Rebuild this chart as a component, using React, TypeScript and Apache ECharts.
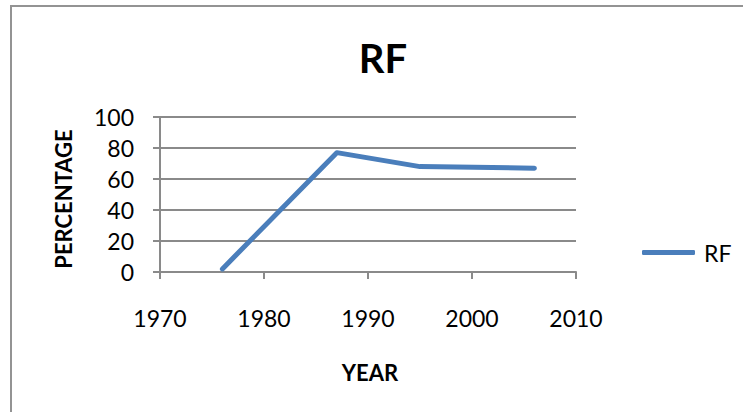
import React, { useEffect, useRef } from "react";
import * as echarts from "echarts";

const years = [1976, 1987, 1995, 2006];
const rfValues = [2, 77, 68, 67];
const seriesName = "RF";
const titleText = "RF";
const xAxisName = "YEAR";
const yAxisName = "PERCENTAGE";

const FONT = "Lato, 'Open Sans', sans-serif";

export default function App() {
  const ref = useRef<HTMLDivElement>(null);
  useEffect(() => {
    if (!ref.current) return;
    const chart = echarts.init(ref.current, null, { renderer: "svg" });
    const data = years.map((y, i) => [y, rfValues[i]]);
    chart.setOption({
      animation: false,
      backgroundColor: "#ffffff",
      textStyle: { fontFamily: FONT },
      grid: { left: 160, right: 167, top: 117, bottom: 140, containLabel: false },
      graphic: [
        {
          type: "rect",
          shape: { x: 11, y: 6, width: 900, height: 600 },
          style: { fill: "none", stroke: "#939393", lineWidth: 2 },
          silent: true,
        },
        {
          type: "text",
          x: 383,
          y: 58,
          style: {
            text: titleText,
            font: `bold 40px ${FONT}`,
            fill: "#000000",
            align: "center",
            verticalAlign: "middle",
          },
        },
        {
          type: "text",
          x: 370,
          y: 372,
          style: {
            text: xAxisName,
            font: `bold 22px ${FONT}`,
            fill: "#000000",
            align: "center",
            verticalAlign: "middle",
          },
        },
        {
          type: "text",
          x: 63,
          y: 199,
          rotation: Math.PI / 2,
          style: {
            text: yAxisName,
            font: `bold 22px ${FONT}`,
            fill: "#000000",
            align: "center",
            verticalAlign: "middle",
          },
        },
      ],
      legend: {
        show: true,
        data: [seriesName],
        orient: "vertical",
        left: 637,
        top: 236,
        itemWidth: 53,
        itemHeight: 5,
        icon: "roundRect",
        itemStyle: { color: "#4a7ebb", borderWidth: 0 },
        textStyle: {
          fontFamily: FONT,
          fontSize: 23,
          color: "#000000",
          padding: [0, 0, 0, 4],
        },
      },
      xAxis: {
        type: "value",
        min: 1970,
        max: 2010,
        interval: 10,
        axisLine: { show: true, lineStyle: { color: "#8a8a8a", width: 2 } },
        axisTick: { show: true, length: 7, lineStyle: { color: "#8a8a8a", width: 2 } },
        axisLabel: {
          fontFamily: FONT,
          fontSize: 23,
          color: "#000000",
          margin: 34,
          formatter: (v: number) => String(v),
        },
        splitLine: { show: false },
      },
      yAxis: {
        type: "value",
        min: 0,
        max: 100,
        interval: 20,
        axisLine: { show: true, lineStyle: { color: "#8a8a8a", width: 2 } },
        axisTick: { show: true, length: 7, lineStyle: { color: "#8a8a8a", width: 2 } },
        axisLabel: { fontFamily: FONT, fontSize: 23, color: "#000000", margin: 26 },
        splitLine: { show: true, lineStyle: { color: "#8a8a8a", width: 2 } },
      },
      series: [
        {
          name: seriesName,
          type: "line",
          data,
          showSymbol: false,
          symbol: "none",
          lineStyle: { color: "#4a7ebb", width: 5, cap: "round", join: "round" },
          itemStyle: { color: "#4a7ebb" },
        },
      ],
    });
    return () => chart.dispose();
  }, []);
  return (
    <div
      ref={ref}
      style={{ position: "fixed", left: 0, top: 0, width: 743, height: 412 }}
    />
  );
}
